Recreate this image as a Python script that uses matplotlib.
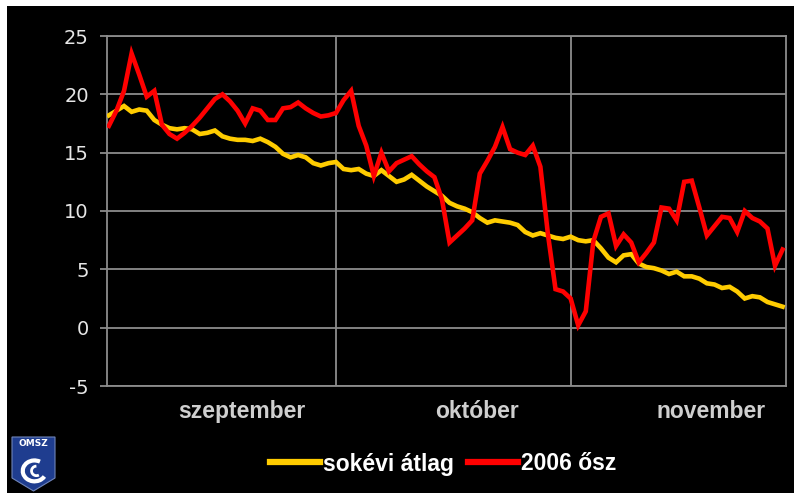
import numpy as np
import matplotlib.pyplot as plt
from matplotlib.patches import Rectangle, Polygon, Arc

plt.rcParams['axes.unicode_minus'] = False

# napi középhőmérséklet, szept. 1-től
atlag = [18.2, 18.6, 19.0, 18.5, 18.7, 18.6, 17.8, 17.4, 17.1, 17.0,
         17.1, 17.0, 16.6, 16.7, 16.9, 16.4, 16.2, 16.1, 16.1, 16.0,
         16.2, 15.9, 15.5, 14.9, 14.6, 14.8, 14.6, 14.1, 13.9, 14.1,
         14.2, 13.6, 13.5, 13.6, 13.2, 13.0, 13.5, 13.0, 12.5, 12.7,
         13.1, 12.6, 12.1, 11.7, 11.3, 10.7, 10.4, 10.2, 9.9, 9.4,
         9.0, 9.2, 9.1, 9.0, 8.8, 8.2, 7.9, 8.1, 7.9, 7.7,
         7.6, 7.8, 7.5, 7.4, 7.5, 6.8, 6.0, 5.6, 6.2, 6.3,
         5.5, 5.2, 5.1, 4.9, 4.6, 4.8, 4.4, 4.4, 4.2, 3.8,
         3.7, 3.4, 3.5, 3.1, 2.5, 2.7, 2.6, 2.2, 2.0, 1.8]

osz2006 = [17.3, 18.6, 20.3, 23.5, 21.7, 19.8, 20.3, 17.4, 16.6, 16.2,
           16.7, 17.3, 18.0, 18.8, 19.6, 20.0, 19.4, 18.6, 17.5, 18.8,
           18.6, 17.8, 17.8, 18.8, 18.9, 19.3, 18.8, 18.4, 18.1, 18.2,
           18.4, 19.5, 20.3, 17.3, 15.6, 13.0, 15.0, 13.4, 14.1, 14.4,
           14.7, 14.0, 13.4, 12.9, 11.0, 7.3, 7.9, 8.5, 9.2, 13.2,
           14.3, 15.5, 17.2, 15.3, 15.0, 14.8, 15.6, 13.8, 8.0, 3.3,
           3.1, 2.5, 0.2, 1.4, 7.4, 9.5, 9.8, 7.0, 8.0, 7.3,
           5.6, 6.4, 7.3, 10.3, 10.2, 9.2, 12.5, 12.6, 10.3, 7.9,
           8.7, 9.5, 9.4, 8.2, 10.0, 9.4, 9.1, 8.5, 5.3, 6.7]

honapok = ["szeptember", "október", "november"]
honap_hatar = [30, 61]
honap_cimke_x = [17.5, 48.6, 79.6]
y_ticks = [-5, 0, 5, 10, 15, 20, 25]

napok = np.arange(len(atlag))

fig = plt.figure(figsize=(7.94, 4.93), dpi=100, facecolor="white")
fig.patches.append(Rectangle((7 / 794, 0), 1, 1 - 6 / 493, transform=fig.transFigure,
                             facecolor="black", edgecolor="none", zorder=-10))

ax = fig.add_axes([107 / 794, 1 - 386 / 493, (786 - 107) / 794, (386 - 36) / 493])
ax.set_facecolor("black")

for y in y_ticks:
    ax.axhline(y, color="#8c8c8c", lw=1.3, zorder=1)
for x in honap_hatar:
    ax.axvline(x, color="#8c8c8c", lw=1.3, zorder=1)

ax.plot(napok, atlag, color="#ffcc00", lw=3.3, zorder=3, label="sokévi átlag",
        solid_joinstyle="miter")
ax.plot(napok, osz2006, color="#ff0000", lw=3.3, zorder=4, label="2006 ősz",
        solid_joinstyle="miter")

ax.set_xlim(-0.25, 89.45)
ax.set_ylim(-5, 25)
ax.set_yticks(y_ticks)
ax.set_xticks([])
ax.tick_params(axis="y", colors="#8c8c8c", length=5, width=1.3, pad=8,
               labelcolor="#e6e6e6", labelsize=14)
for sp in ax.spines.values():
    sp.set_color("#8c8c8c")
    sp.set_linewidth(1.3)

for x, nev in zip(honap_cimke_x, honapok):
    ax.text(x, -7.2, nev, ha="center", va="center", fontsize=16.5,
            fontweight="bold", color="#cfcfcf", family="Liberation Sans")

leg = fig.legend(loc="center", bbox_to_anchor=(443 / 794, 1 - 464 / 493),
                 ncol=2, frameon=False, handlelength=2.2, handletextpad=0.12,
                 columnspacing=0.6,
                 prop={"family": "Liberation Sans", "weight": "bold", "size": 16.5})
for t in leg.get_texts():
    t.set_color("white")
for h in leg.get_lines():
    h.set_linewidth(4.5)

# OMSZ logó
pajzs = [(12, 437), (55, 437), (55, 478), (33.5, 491), (12, 478)]
fig.patches.append(Polygon([(x / 794, 1 - y / 493) for x, y in pajzs], closed=True,
                           transform=fig.transFigure, facecolor="#1f3d8f",
                           edgecolor="#6f84b8", lw=0.8, zorder=5))
fig.text(33.5 / 794, 1 - 443 / 493, "OMSZ", ha="center", va="center", fontsize=6.5,
         color="white", fontweight="bold", zorder=6)
logo_ax = fig.add_axes([14 / 794, 1 - 488 / 493, 39 / 794, 38 / 493], zorder=10)
logo_ax.set_xlim(-1, 1)
logo_ax.set_ylim(-1, 1)
logo_ax.axis("off")
logo_ax.add_patch(Arc((0.05, -0.1), 1.2, 1.1, theta1=60, theta2=330, color="white", lw=3))
logo_ax.add_patch(Arc((0.15, -0.1), 0.5, 0.5, theta1=90, theta2=300, color="white", lw=2))

fig.savefig("out.png", dpi=100, facecolor=fig.get_facecolor())
